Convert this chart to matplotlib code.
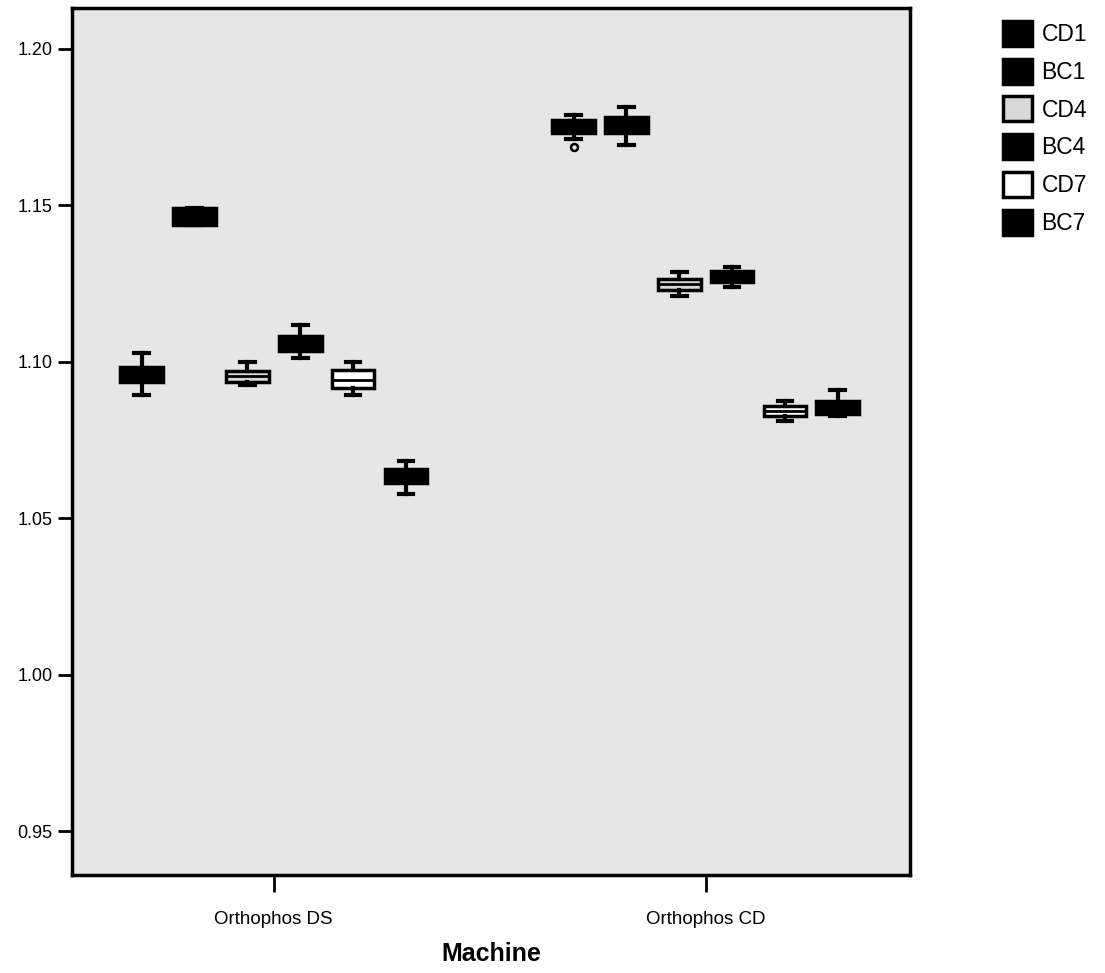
import matplotlib
matplotlib.use("Agg")
import matplotlib.pyplot as plt
from matplotlib.patches import Patch
import numpy as np

plt.rcParams['font.family'] = ['Liberation Sans', 'DejaVu Sans']

machines = ["Orthophos DS", "Orthophos CD"]
series = ["CD1", "BC1", "CD4", "BC4", "CD7", "BC7"]
fills = ["black", "black", "#d9d9d9", "black", "white", "black"]

# five-number summaries per machine: whislo, q1, med, q3, whishi
ds_stats = [
    [1.0895, 1.0936, 1.0960, 1.0984, 1.1029],
    [1.1436, 1.1436, 1.1463, 1.1490, 1.1490],
    [1.0924, 1.0936, 1.0955, 1.0971, 1.1000],
    [1.1013, 1.1035, 1.1060, 1.1083, 1.1118],
    [1.0895, 1.0917, 1.0940, 1.0975, 1.1000],
    [1.0576, 1.0611, 1.0635, 1.0656, 1.0682],
]
cd_stats = [
    [1.1710, 1.1732, 1.1752, 1.1771, 1.1787],
    [1.1691, 1.1732, 1.1755, 1.1783, 1.1815],
    [1.1210, 1.1229, 1.1247, 1.1264, 1.1287],
    [1.1239, 1.1255, 1.1272, 1.1290, 1.1303],
    [1.0809, 1.0825, 1.0844, 1.0860, 1.0873],
    [1.0828, 1.0834, 1.0853, 1.0873, 1.0911],
]
cd_fliers = [[1.1685], [], [], [], [], []]
ds_fliers = [[], [], [], [], [], []]

fig = plt.figure(figsize=(11.05, 9.73), dpi=100)
ax = fig.add_axes([0.0652, 0.1007, 0.7583, 0.8911])
ax.set_facecolor("#e6e6e6")

step = 0.1224
offsets = (np.arange(len(series)) - 2.5) * step

for g, (stats, fliers) in enumerate([(ds_stats, ds_fliers), (cd_stats, cd_fliers)]):
    for i, s in enumerate(stats):
        d = dict(whislo=s[0], q1=s[1], med=s[2], q3=s[3], whishi=s[4], fliers=fliers[i])
        ax.bxp([d], positions=[g + offsets[i]], widths=0.099, capwidths=0.034,
               patch_artist=True, showfliers=True,
               boxprops=dict(facecolor=fills[i], edgecolor="black", linewidth=2.5),
               medianprops=dict(color="black", linewidth=2),
               whiskerprops=dict(color="black", linewidth=3),
               capprops=dict(color="black", linewidth=3),
               flierprops=dict(marker="o", markersize=5, markerfacecolor="none",
                               markeredgecolor="black", markeredgewidth=1.8))

ax.set_xlim(-0.467, 1.473)
ax.set_ylim(0.936, 1.213)
ax.set_yticks([0.95, 1.00, 1.05, 1.10, 1.15, 1.20])
ax.set_yticklabels(["0.95", "1.00", "1.05", "1.10", "1.15", "1.20"], fontsize=13)
ax.set_xticks([0, 1])
ax.set_xticklabels(machines, fontsize=13.5)
ax.tick_params(axis="y", direction="out", length=10, width=2, pad=4)
ax.tick_params(axis="x", direction="out", length=12, width=2, pad=14)
for sp in ax.spines.values():
    sp.set_linewidth(2.5)
ax.set_xlabel("Machine", fontsize=18, fontweight="bold", labelpad=10)

handles = [Patch(facecolor=f, edgecolor="black", linewidth=2.5) for f in fills]
fig.legend(handles, series, loc="upper left", bbox_to_anchor=(0.899, 0.988),
           frameon=False, fontsize=16.5, handlelength=1.3, handleheight=1.3,
           handletextpad=0.4, labelspacing=0.55, borderaxespad=0)

fig.savefig("out.png", dpi=100)
